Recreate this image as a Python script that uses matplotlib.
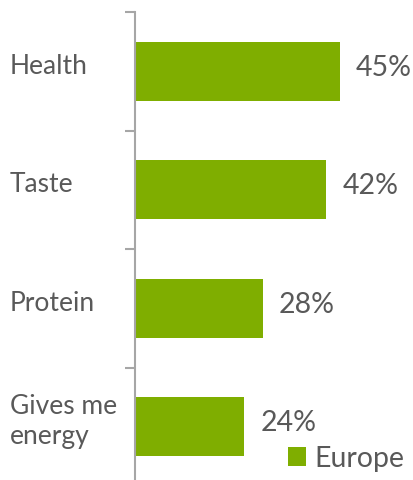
import matplotlib
matplotlib.use("Agg")
import matplotlib.pyplot as plt
import matplotlib.transforms as mtrans

categories = ["Health", "Taste", "Protein", "Gives me\nenergy"]
values = [45, 42, 28, 24]
series_name = "Europe"

green = "#7FAE00"
grey_text = "#595959"
axis_grey = "#A6A6A6"

plt.rcParams['font.family'] = ['Lato', 'DejaVu Sans']

fig = plt.figure(figsize=(4.13, 4.81), dpi=100)
W, H = 413, 481
ax = fig.add_axes([135 / W, (H - 487) / H, (W - 135) / W, 474 / H])

pos = list(range(len(categories)))
bars = ax.barh(pos, values, height=0.5, color=green, label=series_name)
ax.set_xlim(0, 61)
ax.set_ylim(len(categories) - 0.5, -0.5)

for s in ["top", "right", "bottom"]:
    ax.spines[s].set_visible(False)
ax.spines["left"].set_color(axis_grey)
ax.spines["left"].set_linewidth(1.5)
ax.set_xticks([])
ax.set_yticks([p - 0.5 for p in pos] + [len(categories) - 0.5])
ax.set_yticklabels([])
ax.tick_params(axis="y", length=7, width=1.5, color=axis_grey)

# category labels, left aligned near the figure edge
lab_tr = mtrans.blended_transform_factory(fig.transFigure, ax.transData)
for p, label in zip(pos, categories):
    ax.text(10 / W, p - 0.05, label, transform=lab_tr, ha="left", va="center",
            fontsize=19, color=grey_text, linespacing=1.25)

for rect, v in zip(bars, values):
    ax.text(v + 3.5, rect.get_y() + rect.get_height() / 2 - 0.04, f"{v}%",
            ha="left", va="center", fontsize=20.5, color=grey_text)

leg = ax.legend(loc="lower right", bbox_to_anchor=(1.0, 0.0), bbox_transform=fig.transFigure,
                frameon=False, fontsize=20.5, handlelength=0.62, handleheight=0.62,
                handletextpad=0.3, borderaxespad=0.1, borderpad=0.2)
for t in leg.get_texts():
    t.set_color(grey_text)

fig.savefig("out.png", dpi=100)
